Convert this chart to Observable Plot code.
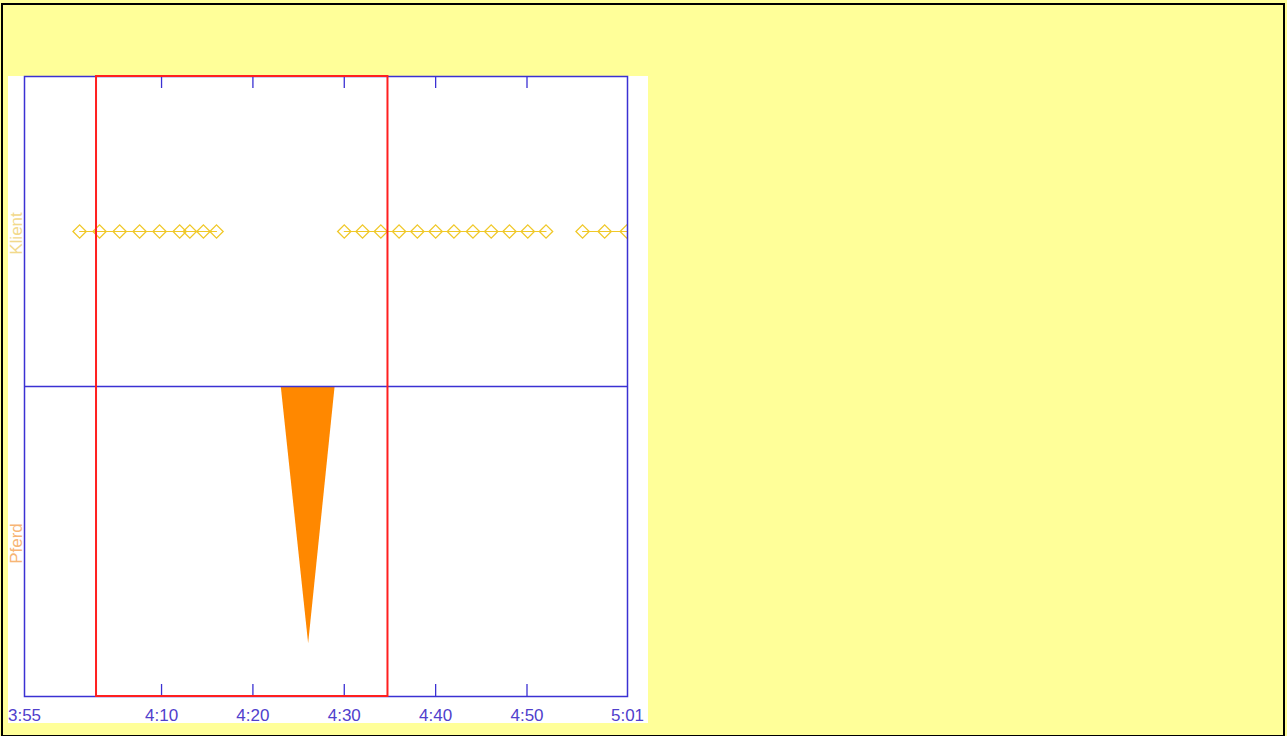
<!DOCTYPE html>
<html>
<head>
<meta charset="utf-8">
<script src="https://cdn.jsdelivr.net/npm/d3@7"></script>
<script src="https://cdn.jsdelivr.net/npm/@observablehq/plot@0.6"></script>
<style>
  html, body { margin: 0; padding: 0; background: #ffff99; overflow: hidden; }
  #page { position: absolute; left: 1px; top: 3px; width: 1280px; height: 730px; border: 2px solid #000; background: #ffff99; }
  #chart { position: absolute; left: 8px; top: 76px; width: 640px; height: 647px; background: #fff; overflow: visible; }
  #chart svg { display: block; background: #fff; overflow: visible; }
</style>
</head>
<body>
<div id="page"></div>
<div id="chart"></div>
<script>
// ---- data ----
const xStart = "3:55:00";
const xEnd = "5:01:00";
const tickTimes = ["4:10:00", "4:20:00", "4:30:00", "4:40:00", "4:50:00"];
const labelTimes = ["3:55:00", "4:10:00", "4:20:00", "4:30:00", "4:40:00", "4:50:00", "5:01:00"];

// Klient observations (three connected runs)
const klientRun1 = ["4:01:02", "4:03:13", "4:05:25", "4:07:36", "4:09:47", "4:11:59", "4:13:06", "4:14:35", "4:16:01"];
const klientRun2 = ["4:30:00", "4:32:00", "4:34:00", "4:36:00", "4:38:00", "4:40:00", "4:42:00", "4:44:05", "4:46:05", "4:48:05", "4:50:05", "4:52:05"];
const klientRun3 = ["4:56:05", "4:58:30", "5:00:55"];

// Pferd series (0..100 of panel depth)
const pferdTimes = ["4:23:06", "4:26:06", "4:29:00"];
const pferdValues = [0, 83, 0];

// highlighted window
const windowStart = "4:02:53";
const windowEnd = "4:34:47";

// rows
const rows = ["Pferd", "Klient"];

// ---- helpers ----
function t(s) {
  const [h, m, sec] = s.split(":").map(Number);
  return new Date(2000, 0, 1, h, m, sec || 0);
}

const klient = [];
[klientRun1, klientRun2, klientRun3].forEach((run, i) => {
  run.forEach(s => klient.push({time: t(s), run: i, row: 1.5}));
});
const pferd = pferdTimes.map((s, i) => ({time: t(s), v: pferdValues[i]}));

const blue = "#3b31d3";
const labelBlue = "#5040cc";
const red = "#ff1f1f";
const gold = "#f0c828";
const orange = "#ff8800";

const plot = Plot.plot({
  width: 640,
  height: 647,
  marginLeft: 16,
  marginRight: 21,
  marginTop: 0,
  marginBottom: 27,
  style: {background: "#fff", fontFamily: "'Liberation Sans', Arial, sans-serif", overflow: "visible"},
  x: {type: "time", domain: [t(xStart), t(xEnd)]},
  y: {domain: [0, 2], axis: null},
  marks: [
    // Pferd triangle hanging from the panel divider
    Plot.areaY(pferd, {x: "time", y1: 1, y2: d => 1 - d.v / 100, fill: orange, curve: "linear"}),
    // Klient runs
    Plot.line(klient, {x: "time", y: "row", z: "run", stroke: gold, strokeWidth: 1.2, clip: true}),
    Plot.dot(klient, {x: "time", y: "row", symbol: "diamond2", r: 6, stroke: gold, strokeWidth: 1.3, fill: "none", clip: true}),
    // frame, divider and inward ticks
    Plot.frame({stroke: blue, strokeWidth: 1.5}),
    Plot.ruleY([1], {stroke: blue, strokeWidth: 1.5}),
    Plot.tickX(tickTimes.map(t), {x: d => d, stroke: blue, strokeWidth: 1.3, insetBottom: 608}),
    Plot.tickX(tickTimes.map(t), {x: d => d, stroke: blue, strokeWidth: 1.3, insetTop: 608}),
    Plot.axisX(labelTimes.map(t), {
      tickSize: 0, tickPadding: 12, fontSize: 17, fill: labelBlue, label: null,
      tickFormat: d3.timeFormat("%-H:%M")
    }),
    // row labels
    Plot.text(rows, {
      y: (d, i) => i + 0.5, frameAnchor: "left", textAnchor: "middle", dx: -8, dy: 2, rotate: -90, text: d => d,
      fill: d => d === "Klient" ? "#f2d98c" : "#f7b575", fontSize: 17
    }),
    // highlighted window
    Plot.rect([{x1: t(windowStart), x2: t(windowEnd)}], {
      x1: "x1", x2: "x2", y1: 0, y2: 2, stroke: red, strokeWidth: 2, fill: "none"
    })
  ]
});
document.getElementById("chart").appendChild(plot);
</script>
</body>
</html>
